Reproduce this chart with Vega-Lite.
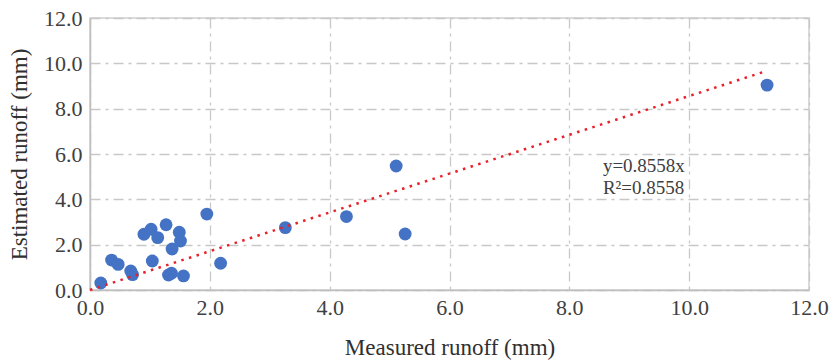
{
  "$schema": "https://vega.github.io/schema/vega-lite/v6.json",
  "autosize": {"type": "none"},
  "width": 719,
  "height": 272,
  "padding": {"left": 90, "top": 18, "right": 22, "bottom": 70},
  "background": "white",
  "config": {
    "view": {"stroke": "#d0d0d0", "strokeWidth": 1.5}
  },
  "layer": [
    {
      "data": {"values": [
        {"measured": 0.18, "estimated": 0.31},
        {"measured": 0.36, "estimated": 1.32},
        {"measured": 0.47, "estimated": 1.13},
        {"measured": 0.68, "estimated": 0.84},
        {"measured": 0.71, "estimated": 0.68},
        {"measured": 0.90, "estimated": 2.46},
        {"measured": 1.02, "estimated": 2.68},
        {"measured": 1.04, "estimated": 1.28},
        {"measured": 1.13, "estimated": 2.31},
        {"measured": 1.27, "estimated": 2.88},
        {"measured": 1.31, "estimated": 0.66},
        {"measured": 1.37, "estimated": 1.81},
        {"measured": 1.36, "estimated": 0.74},
        {"measured": 1.49, "estimated": 2.55},
        {"measured": 1.51, "estimated": 2.16},
        {"measured": 1.56, "estimated": 0.62},
        {"measured": 1.95, "estimated": 3.35},
        {"measured": 2.18, "estimated": 1.18},
        {"measured": 3.26, "estimated": 2.75},
        {"measured": 4.28, "estimated": 3.24},
        {"measured": 5.11, "estimated": 5.47},
        {"measured": 5.26, "estimated": 2.47},
        {"measured": 11.30, "estimated": 9.04}
      ]},
      "mark": {"type": "point", "filled": true, "size": 165, "color": "#4472c4", "opacity": 1},
      "encoding": {
        "x": {"field": "measured", "type": "quantitative", "title": "Measured runoff (mm)",
              "scale": {"domain": [0, 12], "nice": false},
              "axis": {"values": [0, 2, 4, 6, 8, 10, 12], "format": ".1f", "labelFlush": false, "labelPadding": 7, "titlePadding": 18,
                       "labelFont": "Liberation Serif", "titleFont": "Liberation Serif", "labelFontSize": 22, "titleFontSize": 23,
                       "titleFontWeight": "normal", "labelColor": "#404040", "titleColor": "#303030",
                       "gridColor": "#c8c8c8", "gridDash": [10, 5, 3, 5], "gridWidth": 1.3,
                       "domainColor": "#bfbfbf", "domainWidth": 1.5, "ticks": false}},
        "y": {"field": "estimated", "type": "quantitative", "title": "Estimated runoff (mm)",
              "scale": {"domain": [0, 12], "nice": false},
              "axis": {"values": [0, 2, 4, 6, 8, 10, 12], "format": ".1f", "labelFlush": false, "labelPadding": 8, "titlePadding": 12,
                       "labelFont": "Liberation Serif", "titleFont": "Liberation Serif", "labelFontSize": 22, "titleFontSize": 23,
                       "titleFontWeight": "normal", "labelColor": "#404040", "titleColor": "#303030",
                       "gridColor": "#c8c8c8", "gridDash": [10, 5, 3, 5], "gridWidth": 1.3,
                       "domainColor": "#bfbfbf", "domainWidth": 1.5, "ticks": false}}
      }
    },
    {
      "data": {"values": [
        {"measured": 0, "estimated": 0},
        {"measured": 11.25, "estimated": 9.628}
      ]},
      "mark": {"type": "line", "color": "#e8202a", "strokeWidth": 2.5, "strokeDash": [2.5, 5.5]},
      "encoding": {
        "x": {"field": "measured", "type": "quantitative"},
        "y": {"field": "estimated", "type": "quantitative"}
      }
    },
    {
      "data": {"values": [
        {"label": "y=0.8558x", "measured": 8.56, "estimated": 5.45},
        {"label": "R²=0.8558", "measured": 8.56, "estimated": 4.5}
      ]},
      "mark": {"type": "text", "align": "left", "baseline": "middle", "font": "Liberation Serif", "fontSize": 19, "color": "#404040"},
      "encoding": {
        "x": {"field": "measured", "type": "quantitative"},
        "y": {"field": "estimated", "type": "quantitative"},
        "text": {"field": "label"}
      }
    }
  ]
}
